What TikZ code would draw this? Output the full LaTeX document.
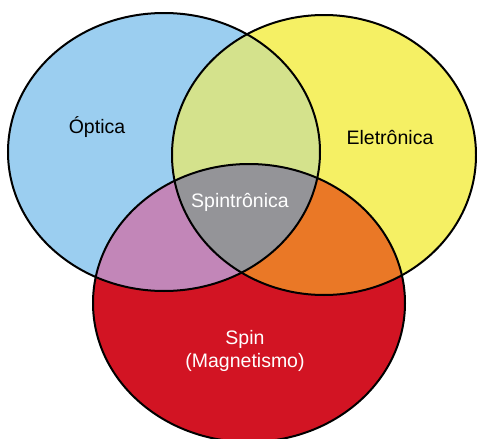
\documentclass[tikz,border=0pt]{standalone}
\usepackage{fontspec}
\setmainfont{Liberation Sans}
\definecolor{optblue}{RGB}{155,206,240}
\definecolor{eleyellow}{RGB}{245,240,100}
\definecolor{spinred}{RGB}{210,20,35}
\definecolor{optele}{RGB}{212,226,140}
\definecolor{optspin}{RGB}{194,134,184}
\definecolor{elespin}{RGB}{234,120,38}
\definecolor{spintro}{RGB}{148,148,152}
\begin{document}
\begin{tikzpicture}[x=1pt, y=-1pt, line width=2pt,
    label/.style={font=\fontsize{19.5}{23}\selectfont, align=center}]
    \useasboundingbox[fill=white] (0,0) rectangle (477,439);

    % the three sets
    \def\optica{(164,152) ellipse [x radius=156, y radius=139]}
    \def\eletronica{(324,155) ellipse [x radius=152, y radius=140]}
    \def\spin{(249,303) ellipse [x radius=156, y radius=139]}

    \fill[optblue] \optica;
    \fill[eleyellow] \eletronica;
    \fill[spinred] \spin;

    % overlaps
    \begin{scope}
      \clip \optica;
      \fill[optele] \eletronica;
      \fill[optspin] \spin;
    \end{scope}
    \begin{scope}
      \clip \eletronica;
      \fill[elespin] \spin;
    \end{scope}
    \begin{scope}
      \clip \optica;
      \clip \eletronica;
      \fill[spintro] \spin;
    \end{scope}

    \draw \optica;
    \draw \eletronica;
    \draw \spin;

    \node[label] (opt) at (97,127) {Óptica};
    \node[label] (ele) at (390,137) {Eletrônica};
    \node[label, text=white] (spt) at (240,202) {Spintrônica};
    \node[label, text=white] (spn) at (245,351) {Spin\\(Magnetismo)};
\end{tikzpicture}
\end{document}
